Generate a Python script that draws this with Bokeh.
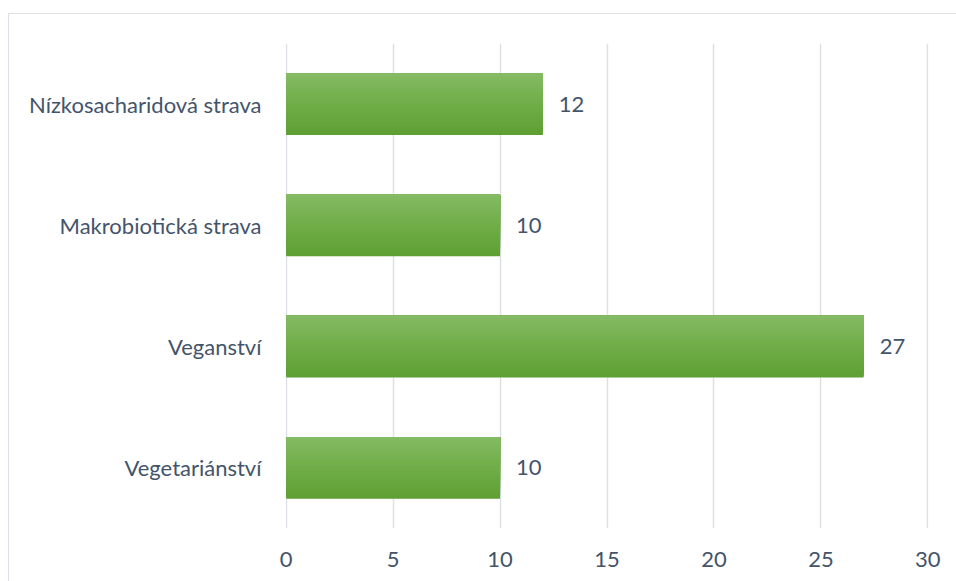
from bokeh.plotting import figure
from bokeh.models import Range1d, FixedTicker, ColumnDataSource, LabelSet
from bokeh.core.properties import value
from bokeh.embed import file_html
from bokeh.resources import INLINE

categories = ["Vegetariánství", "Veganství", "Makrobiotická strava", "Nízkosacharidová strava"]
values = [10, 27, 10, 12]
x_ticks = [0, 5, 10, 15, 20, 25, 30]

FONT = "Lato"
TXT = "#44546A"
FS = "22px"

p = figure(width=947, height=567, output_backend="svg", toolbar_location=None,
           x_range=Range1d(-0.03, 30.03), y_range=Range1d(0, 4),
           min_border_left=276, min_border_right=28, min_border_top=29, min_border_bottom=53)
p.margin = (14, 0, 0, 9)
p.styles = {"outline": "1.5px solid #DDE1E7"}
p.outline_line_color = None
p.background_fill_color = "white"
p.border_fill_color = "white"

ypos = [i + 0.5 for i in range(len(categories))]

# gradient bars drawn as overlapping layers (top part painted last)
bar_h = 0.51
n = 40
top_c = (0x85, 0xBB, 0x65)
mid_c = (0x70, 0xAD, 0x47)
bot_c = (0x5E, 0x9F, 0x33)
def mix(a, b, t):
    return "#%02x%02x%02x" % tuple(int(round(a[k] + (b[k] - a[k]) * t)) for k in range(3))
for j in range(n - 1, -1, -1):
    t = (j + 0.5) / n  # 0 top -> 1 bottom
    col = mix(top_c, mid_c, t * 2) if t < 0.5 else mix(mid_c, bot_c, (t - 0.5) * 2)
    h = bar_h * (j + 1) / n
    p.hbar(y=[y + bar_h / 2 - h / 2 for y in ypos], right=values, left=0, height=h,
           color=col, line_color=None)

src = ColumnDataSource(dict(x=values, y=ypos, t=[str(v) for v in values]))
p.add_layout(LabelSet(x="x", y="y", text="t", source=src, x_offset=16, text_baseline="middle",
                      text_font=value(FONT), text_font_size=value(FS), text_color=TXT))

p.xaxis.ticker = FixedTicker(ticks=x_ticks)
p.yaxis.ticker = FixedTicker(ticks=ypos)
p.yaxis.major_label_overrides = {y: c for y, c in zip(ypos, categories)}
for ax in (p.xaxis, p.yaxis):
    ax.axis_line_color = None
    ax.major_tick_line_color = None
    ax.minor_tick_line_color = None
    ax.major_label_text_font = FONT
    ax.major_label_text_font_size = FS
    ax.major_label_text_color = TXT
p.yaxis.major_label_standoff = 18
p.xaxis.major_label_standoff = 17

p.ygrid.grid_line_color = None
p.xgrid.grid_line_color = "#DDE1E7"
p.xgrid.grid_line_width = 1.5

open("out.html", "w").write(file_html(p, INLINE))
